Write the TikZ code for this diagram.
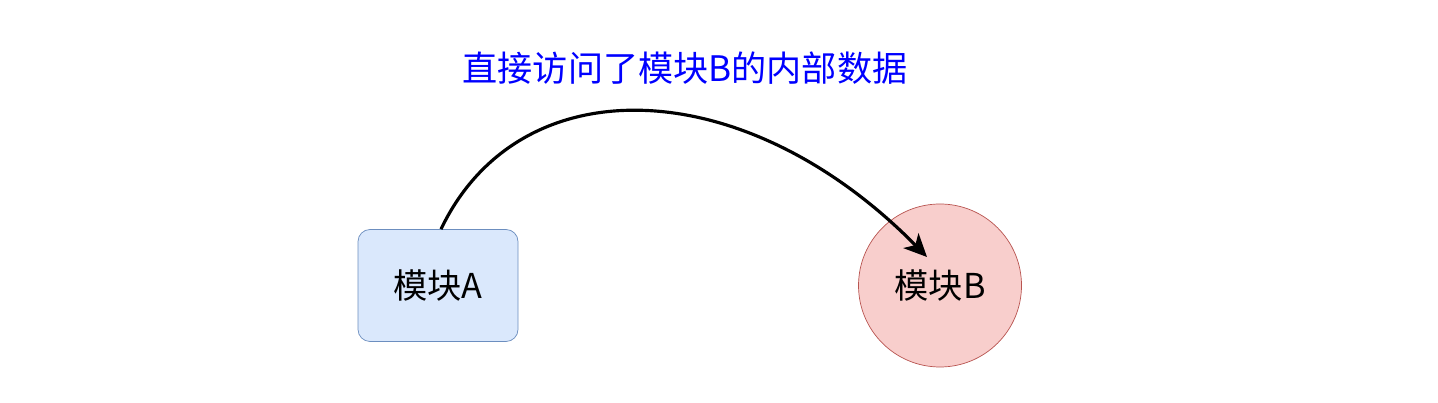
\documentclass[tikz,border=0pt]{standalone}
\usepackage{xcolor}
\usepackage{tikz}
\usepackage{fontspec}
\usetikzlibrary{shapes.geometric, arrows.meta, positioning, calc}
\newfontfamily\cjk{Noto Sans CJK SC}
\definecolor{modblue}{HTML}{DAE8FC}
\definecolor{modblueline}{HTML}{6C8EBF}
\definecolor{modred}{HTML}{F8CECC}
\definecolor{modredline}{HTML}{B85450}
\definecolor{notetext}{HTML}{0000FF}
\tikzset{
    modbox/.style={rectangle, rounded corners=0.24cm, fill=modblue, draw=modblueline, minimum width=3.2cm, minimum height=2.24cm, font=\cjk\fontsize{19.5}{23}\selectfont},
    modcircle/.style={circle, fill=modred, draw=modredline, minimum size=3.26cm, inner sep=0pt, font=\cjk\fontsize{19.5}{23}\selectfont},
    access/.style={line width=1.8pt, -{Stealth[length=13pt, width=12pt, inset=3.5pt]}}
}

\begin{document}
\begin{tikzpicture}
        \useasboundingbox (0,0) rectangle (28.76,8.06);
        \node[modbox] (modA) at (8.76,2.35) {模块A};
        \node[modcircle] (modB) at (18.8,2.35) {模块B};
        \node[text=notetext, font=\cjk\fontsize{20}{24}\selectfont] (note) at (13.7,6.7) {直接访问了模块B的内部数据};
        \coordinate (tip) at ([shift={(-0.26,0.57)}]modB.center);
        \draw[access] ([xshift=0.06cm]modA.north) .. controls (10.4,6.78) and (14.9,6.62) .. (tip);
    \end{tikzpicture}
\end{document}
